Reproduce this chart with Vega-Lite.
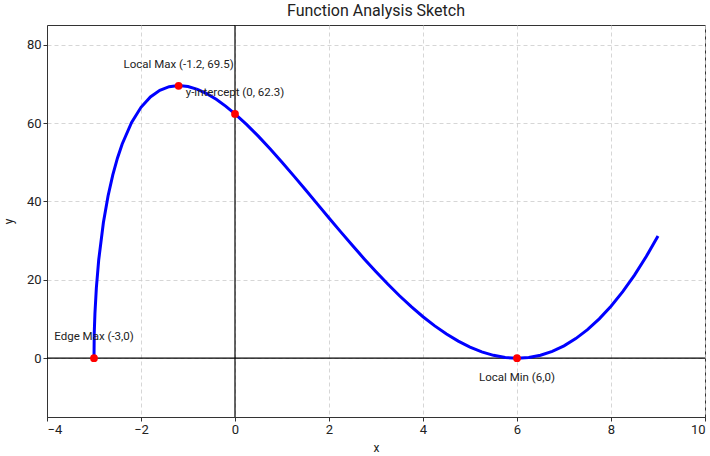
{
  "$schema": "https://vega.github.io/schema/vega-lite/v6.json",
  "width": 658,
  "height": 392,
  "autosize": {"type": "none"},
  "padding": {"left": 47, "top": 25, "right": 5, "bottom": 39},
  "title": {"text": "Function Analysis Sketch", "fontSize": 16, "fontWeight": "normal", "font": "Roboto", "color": "#222", "offset": 5},
  "config": {
    "font": "Roboto",
    "view": {"stroke": "#333", "strokeWidth": 1},
    "axis": {
      "labelFont": "Roboto", "labelFontSize": 13, "labelColor": "#222",
      "titleFont": "Roboto", "titleFontSize": 12, "titleFontWeight": "normal", "titleColor": "#222",
      "domainColor": "#333", "tickColor": "#333", "tickSize": 4,
      "gridColor": "#cccccc", "gridDash": [4, 3], "gridWidth": 0.8
    }
  },
  "datasets": {
    "curve": [
      {"x": -3, "y": 0}, {"x": -2.995, "y": 6.34}, {"x": -2.99, "y": 8.08}, {"x": -2.98, "y": 11.40},
      {"x": -2.95, "y": 17.91}, {"x": -2.9, "y": 25.05}, {"x": -2.8, "y": 34.63}, {"x": -2.7, "y": 41.46},
      {"x": -2.6, "y": 46.78}, {"x": -2.5, "y": 51.09}, {"x": -2.4, "y": 54.66}, {"x": -2.2, "y": 60.14},
      {"x": -2.0, "y": 64.00}, {"x": -1.8, "y": 66.65}, {"x": -1.6, "y": 68.34}, {"x": -1.4, "y": 69.27},
      {"x": -1.2, "y": 69.55}, {"x": -1.0, "y": 69.30}, {"x": -0.8, "y": 68.59}, {"x": -0.6, "y": 67.48},
      {"x": -0.4, "y": 66.05}, {"x": -0.2, "y": 64.32}, {"x": 0, "y": 62.35}, {"x": 0.25, "y": 59.60},
      {"x": 0.5, "y": 56.59}, {"x": 0.75, "y": 53.37}, {"x": 1.0, "y": 50.00}, {"x": 1.25, "y": 46.51},
      {"x": 1.5, "y": 42.96}, {"x": 1.75, "y": 39.37}, {"x": 2.0, "y": 35.78}, {"x": 2.25, "y": 32.22},
      {"x": 2.5, "y": 28.73}, {"x": 2.75, "y": 25.33}, {"x": 3.0, "y": 22.05}, {"x": 3.25, "y": 18.91},
      {"x": 3.5, "y": 15.93}, {"x": 3.75, "y": 13.15}, {"x": 4.0, "y": 10.58}, {"x": 4.25, "y": 8.25},
      {"x": 4.5, "y": 6.16}, {"x": 4.75, "y": 4.35}, {"x": 5.0, "y": 2.83}, {"x": 5.25, "y": 1.62},
      {"x": 5.5, "y": 0.73}, {"x": 5.75, "y": 0.18}, {"x": 6.0, "y": 0}, {"x": 6.25, "y": 0.19},
      {"x": 6.5, "y": 0.77}, {"x": 6.75, "y": 1.76}, {"x": 7.0, "y": 3.16}, {"x": 7.25, "y": 5.00},
      {"x": 7.5, "y": 7.29}, {"x": 7.75, "y": 10.04}, {"x": 8.0, "y": 13.27}, {"x": 8.25, "y": 16.98},
      {"x": 8.5, "y": 21.19}, {"x": 8.75, "y": 25.92}, {"x": 9.0, "y": 31.18}
    ],
    "points": [
      {"x": -3, "y": 0, "label": "Edge Max (-3,0)", "side": "above"},
      {"x": -1.2, "y": 69.5, "label": "Local Max (-1.2, 69.5)", "side": "above"},
      {"x": 0, "y": 62.3, "label": "y-intercept (0, 62.3)", "side": "above"},
      {"x": 6, "y": 0, "label": "Local Min (6,0)", "side": "below"}
    ],
    "zero": [{"v": 0}]
  },
  "encoding": {
    "x": {"field": "x", "type": "quantitative", "scale": {"domain": [-4, 10], "nice": false}, "axis": {"values": [-4, -2, 0, 2, 4, 6, 8, 10], "title": "x", "titleY": 25}},
    "y": {"field": "y", "type": "quantitative", "scale": {"domain": [-15, 85], "nice": false}, "axis": {"values": [0, 20, 40, 60, 80], "title": "y", "titleX": -32}}
  },
  "layer": [
    {"data": {"name": "zero"}, "mark": {"type": "rule", "color": "#000", "strokeWidth": 1.2}, "encoding": {"y": {"field": "v", "type": "quantitative"}, "x": null}},
    {"data": {"name": "zero"}, "mark": {"type": "rule", "color": "#000", "strokeWidth": 1.2}, "encoding": {"x": {"field": "v", "type": "quantitative"}, "y": null}},
    {"data": {"name": "curve"}, "mark": {"type": "line", "color": "#0000ff", "strokeWidth": 3}},
    {"data": {"name": "points"}, "mark": {"type": "point", "filled": true, "color": "#ff0000", "size": 60, "opacity": 1}},
    {"data": {"name": "points"}, "transform": [{"filter": "datum.side == 'above'"}], "mark": {"type": "text", "dy": -21, "fontSize": 11.5, "color": "#222", "font": "Roboto"}, "encoding": {"text": {"field": "label"}}},
    {"data": {"name": "points"}, "transform": [{"filter": "datum.side == 'below'"}], "mark": {"type": "text", "dy": 20, "fontSize": 11.5, "color": "#222", "font": "Roboto"}, "encoding": {"text": {"field": "label"}}}
  ]
}
